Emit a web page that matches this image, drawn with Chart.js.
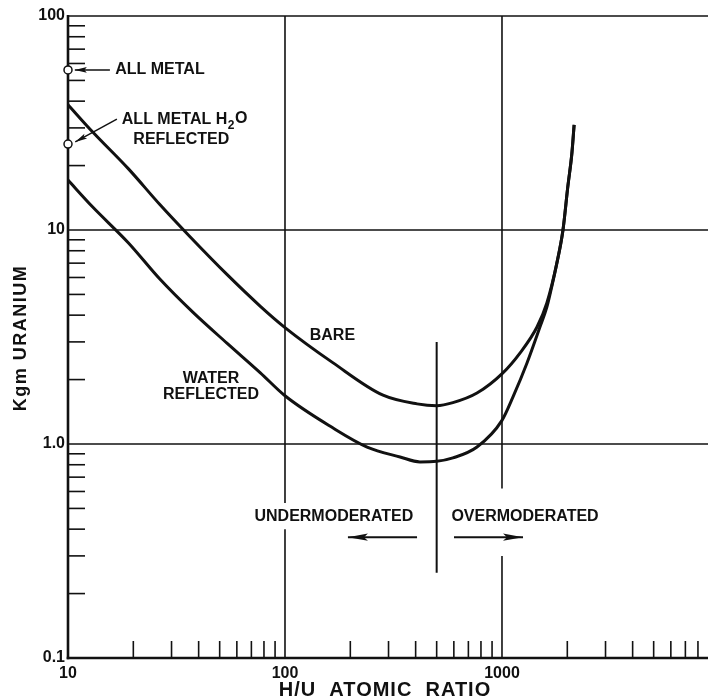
<!DOCTYPE html>
<html><head><meta charset="utf-8">
<script src="https://cdn.jsdelivr.net/npm/chart.js@4"></script>
<style>html,body{margin:0;padding:0;background:#fff;}#wrap{width:708px;height:700px;}</style>
</head><body><div id="wrap"><canvas id="c" width="708" height="700"></canvas></div>
<script>
// ---- data ----
const bareX  = [10, 13, 19, 26.5, 36.5, 54, 77, 100, 166, 283, 406, 500, 594, 767, 1010, 1210, 1450, 1610, 1790, 1910, 2010, 2100, 2150];
const bareY  = [38.5, 28.7, 19.3, 13.15, 9.3, 6.2, 4.4, 3.5, 2.4, 1.69, 1.54, 1.51, 1.56, 1.73, 2.15, 2.66, 3.52, 4.56, 7.0, 10, 15.9, 22.9, 31];
const waterX = [10, 13, 19, 26.5, 37.7, 54, 77, 100, 166, 239, 339, 419, 500, 594, 767, 1000, 1124, 1304, 1496, 1611, 1700, 1790, 1910, 2010, 2100, 2150];
const waterY = [17.1, 12.8, 8.7, 5.9, 4.12, 2.96, 2.15, 1.68, 1.19, 0.968, 0.87, 0.825, 0.83, 0.861, 0.968, 1.29, 1.66, 2.39, 3.52, 4.37, 5.5, 7.0, 10, 15.9, 22.9, 31];
const metalX = [10, 10];
const metalY = [56, 25.2];          // all metal, all metal H2O reflected
const dividerX = [500, 500];
const dividerY = [3.0, 0.25];
const xTickLabels = [10, 100, 1000];
const yTickValues = [0.1, 1, 10, 100];
const yTickLabels = ['0.1', '1.0', '10', '100'];
const xMinorTicks = [20,30,40,50,60,70,80,90,200,300,400,500,600,700,800,900,2000,3000,4000,5000,6000,7000,8000];
const yMinorTicks = [0.2,0.3,0.4,0.5,0.6,0.7,0.8,0.9,2,3,4,5,6,7,8,9,20,30,40,50,60,70,80,90];
const xGridValues = [100, 1000];
const yGridValues = [1, 10, 100];

const F = '"Liberation Sans", Arial, sans-serif';
const INK = '#111';
const pts = (xs, ys) => xs.map((x, i) => ({x: x, y: ys[i]}));
const isDecade = v => Math.abs(Math.log10(v) - Math.round(Math.log10(v))) < 1e-6;

function seg(ctx, x1, y1, x2, y2) { ctx.beginPath(); ctx.moveTo(x1, y1); ctx.lineTo(x2, y2); ctx.stroke(); }
function arrow(ctx, x1, y1, x2, y2, len, w) {
  seg(ctx, x1, y1, x2, y2);
  const ang = Math.atan2(y2 - y1, x2 - x1);
  ctx.save(); ctx.translate(x2, y2); ctx.rotate(ang);
  ctx.beginPath(); ctx.moveTo(0, 0); ctx.lineTo(-len, -w); ctx.lineTo(-len * 0.8, 0); ctx.lineTo(-len, w); ctx.closePath(); ctx.fill();
  ctx.restore();
}

const framePlugin = {
  id: 'frame',
  beforeDatasetsDraw(chart) {
    const {ctx, chartArea: a, scales: {x, y}} = chart;
    ctx.save();
    ctx.strokeStyle = INK; ctx.fillStyle = INK; ctx.lineCap = 'butt';
    // grid lines
    ctx.lineWidth = 1.6;
    yGridValues.forEach(v => { const py = y.getPixelForValue(v); seg(ctx, a.left, py, a.right, py); });
    const gaps = {100: [[0.40, 0.53]], 1000: [[0.30, 0.62]]};
    xGridValues.forEach(v => {
      const px = x.getPixelForValue(v);
      let start = a.bottom;
      (gaps[v] || []).forEach(g => {
        const p1 = y.getPixelForValue(g[0]), p2 = y.getPixelForValue(g[1]);
        seg(ctx, px, start, px, p1); start = p2;
      });
      seg(ctx, px, start, px, a.top);
    });
    // minor ticks (inside)
    ctx.lineWidth = 1.6;
    xMinorTicks.forEach(v => { const px = x.getPixelForValue(v); if (px <= a.right) seg(ctx, px, a.bottom, px, a.bottom - 17); });
    yMinorTicks.forEach(v => { const py = y.getPixelForValue(v); seg(ctx, a.left, py, a.left + 17, py); });
    // axes
    ctx.lineWidth = 2.6;
    seg(ctx, a.left, a.top - 1, a.left, a.bottom + 1.3);
    seg(ctx, a.left - 1.3, a.bottom, a.right, a.bottom);
    ctx.restore();
  },
  afterDatasetsDraw(chart) {
    const {ctx, chartArea: a, scales: {x, y}} = chart;
    const X = v => x.getPixelForValue(v), Y = v => y.getPixelForValue(v);
    ctx.save();
    ctx.fillStyle = INK; ctx.strokeStyle = INK;
    ctx.textBaseline = 'middle';
    ctx.font = 'bold 16px ' + F;
    // labels
    ctx.textAlign = 'left';
    ctx.fillText('ALL METAL', X(16.5), Y(56));
    let tx = X(17.7), ty = Y(32.7);
    ctx.fillText('ALL METAL H', tx, ty);
    tx += ctx.measureText('ALL METAL H').width;
    ctx.font = 'bold 12px ' + F;
    ctx.fillText('2', tx + 0.5, ty + 6);
    tx += ctx.measureText('2').width + 1;
    ctx.font = 'bold 16px ' + F;
    ctx.fillText('O', tx, ty - 1);
    ctx.fillText('REFLECTED', X(20), Y(26.4));
    ctx.fillText('BARE', X(130), Y(3.2));
    ctx.textAlign = 'center';
    ctx.fillText('WATER', X(45.6), Y(2.03));
    ctx.fillText('REFLECTED', X(45.6), Y(1.71));
    ctx.fillText('UNDERMODERATED', X(168), Y(0.456));
    ctx.fillText('OVERMODERATED', X(1277), Y(0.456));
    // leader arrows
    ctx.lineWidth = 1.5;
    arrow(ctx, X(15.6), Y(56), X(10.75), Y(56), 12, 2.8);
    arrow(ctx, X(16.8), Y(33), X(10.8), Y(25.8), 12, 2.8);
    // moderation arrows
    ctx.lineWidth = 2;
    arrow(ctx, X(406), Y(0.367), X(195), Y(0.367), 20, 3.6);
    arrow(ctx, X(601), Y(0.367), X(1250), Y(0.367), 20, 3.6);
    // axis titles
    ctx.font = 'bold 20px ' + F;
    ctx.letterSpacing = '1px';
    ctx.textAlign = 'center';
    ctx.fillText('H/U  ATOMIC  RATIO', (a.left + a.right) / 2 - 3, 690);
    ctx.save();
    ctx.translate(21, 338); ctx.rotate(-Math.PI / 2);
    ctx.font = 'bold 18px ' + F;
    ctx.letterSpacing = '1.5px';
    ctx.fillText('Kgm URANIUM', 0, 0);
    ctx.restore();
    ctx.restore();
  }
};

new Chart(document.getElementById('c'), {
  type: 'scatter',
  data: {
    datasets: [
      {data: pts(bareX, bareY), showLine: true, borderColor: INK, borderWidth: 3, pointRadius: 0, cubicInterpolationMode: 'monotone'},
      {data: pts(waterX, waterY), showLine: true, borderColor: INK, borderWidth: 3, pointRadius: 0, cubicInterpolationMode: 'monotone'},
      {data: pts(dividerX, dividerY), showLine: true, borderColor: INK, borderWidth: 2, pointRadius: 0},
      {data: pts(metalX, metalY), showLine: false, pointRadius: 4, pointBorderWidth: 1.5, pointBorderColor: INK, pointBackgroundColor: '#fff', clip: false}
    ]
  },
  options: {
    responsive: false, animation: false, devicePixelRatio: 1,
    layout: {autoPadding: false, padding: {top: 16, left: 0, right: 0, bottom: 0}},
    plugins: {legend: {display: false}, tooltip: {enabled: false}},
    scales: {
      x: {
        type: 'logarithmic', min: 10, max: 8900,
        grid: {display: false, drawTicks: false}, border: {display: false},
        ticks: {autoSkip: false, maxRotation: 0, minRotation: 0, padding: 6, color: INK,
          font: {family: F, size: 16, weight: 'bold'},
          callback: v => (isDecade(v) && xTickLabels.includes(Math.round(v))) ? String(Math.round(v)) : ''},
        afterFit: s => { s.height = 42; s.paddingLeft = 0; s.paddingRight = 0; }
      },
      y: {
        type: 'logarithmic', min: 0.1, max: 100,
        grid: {display: false, drawTicks: false}, border: {display: false},
        ticks: {autoSkip: false, padding: 3, color: INK,
          font: {family: F, size: 16, weight: 'bold'},
          callback: v => { const i = yTickValues.findIndex(t => Math.abs(t - v) / t < 1e-6); return i >= 0 ? yTickLabels[i] : ''; }},
        afterFit: s => { s.width = 68; s.paddingTop = 0; s.paddingBottom = 0; }
      }
    }
  },
  plugins: [framePlugin]
});
</script>
</body></html>
